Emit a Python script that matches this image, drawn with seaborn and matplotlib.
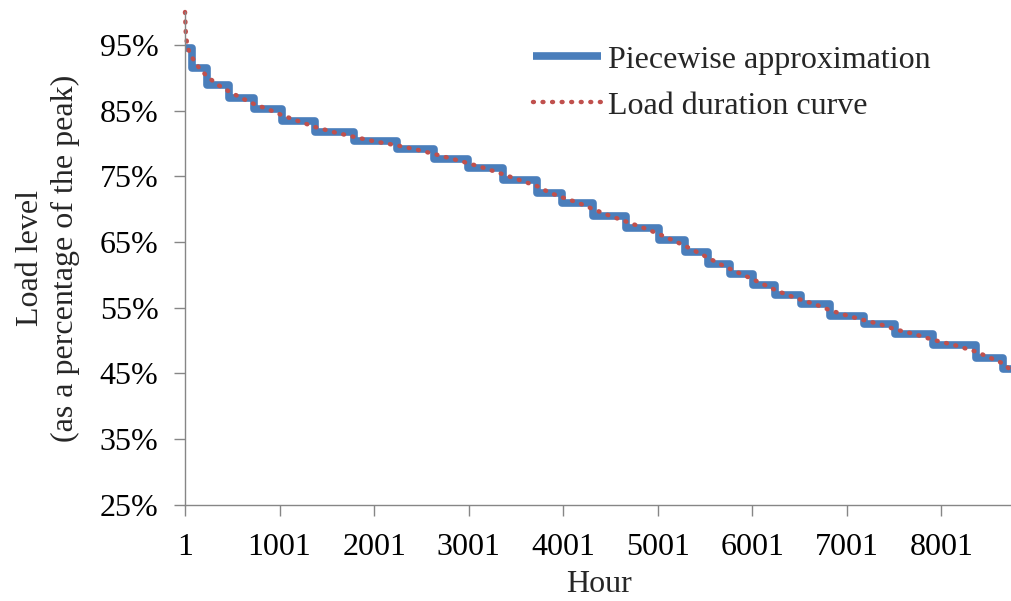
import matplotlib
matplotlib.use("Agg")
import matplotlib.pyplot as plt
from matplotlib.ticker import PercentFormatter
import pandas as pd
import seaborn as sns

# Piecewise (stepwise) approximation: start hour of each block and its load level (% of peak)
step_start_hours = [1, 75, 234, 467, 731, 1027, 1377, 1789, 2244, 2636, 2996, 3366,
                    3726, 3990, 4319, 4668, 5017, 5292, 5535, 5768, 6011, 6244,
                    6519, 6826, 7186, 7514, 7916, 8371, 8657]
step_levels = [94.5, 91.5, 88.9, 86.9, 85.2, 83.4, 81.7, 80.3, 79.1, 77.7, 76.2, 74.4,
               72.5, 71.0, 69.0, 67.2, 65.3, 63.5, 61.7, 60.1, 58.5, 56.9,
               55.5, 53.8, 52.5, 51.0, 49.3, 47.4, 45.6]
last_hour = 8760

# Load duration curve (sorted hourly load, % of peak)
ldc_hours = [1, 10, 30, 75, 150, 234, 350, 467, 600, 731, 880, 1027, 1200, 1377, 1580,
             1789, 2010, 2244, 2440, 2636, 2816, 2996, 3180, 3366, 3546, 3726, 3858,
             3990, 4155, 4319, 4494, 4668, 4843, 5017, 5155, 5292, 5413, 5535, 5651,
             5768, 5890, 6011, 6128, 6244, 6381, 6519, 6672, 6826, 7006, 7186, 7350,
             7514, 7715, 7916, 8143, 8371, 8514, 8657, 8760]
ldc_levels = [100.0, 96.5, 94.5, 93.1, 91.5, 90.2, 88.9, 87.9, 86.9, 86.0, 85.2, 84.3,
              83.4, 82.5, 81.7, 81.0, 80.3, 79.7, 79.1, 78.4, 77.7, 77.0, 76.2, 75.3,
              74.4, 73.5, 72.5, 71.8, 71.0, 70.0, 69.0, 68.1, 67.2, 66.2, 65.3, 64.4,
              63.5, 62.6, 61.7, 60.9, 60.1, 59.3, 58.5, 57.7, 56.9, 56.2, 55.5, 54.6,
              53.8, 53.1, 52.5, 51.7, 51.0, 50.1, 49.3, 48.3, 47.4, 46.5, 45.2]

x_ticks = [1, 1001, 2001, 3001, 4001, 5001, 6001, 7001, 8001]
y_ticks = [25, 35, 45, 55, 65, 75, 85, 95]

sns.set_style("ticks")
plt.rcParams["font.family"] = ["Liberation Serif", "DejaVu Serif"]
plt.rcParams["font.size"] = 23

blue = "#4a7ebb"
red = "#c0504d"
axis_grey = "#868686"
dot_pattern = (0.2, 1.95)

step_df = pd.DataFrame({
    "hour": step_start_hours + [last_hour],
    "level": step_levels + [step_levels[-1]],
})
ldc_df = pd.DataFrame({"hour": ldc_hours, "level": ldc_levels})

fig = plt.figure(figsize=(10.11, 6.01), dpi=100)
ax = fig.add_axes([0.183, 0.160, 0.819, 0.820])

sns.lineplot(data=step_df, x="hour", y="level", ax=ax, estimator=None, sort=False,
             drawstyle="steps-post", color=blue, label="Piecewise approximation")
sns.lineplot(data=ldc_df, x="hour", y="level", ax=ax, estimator=None, sort=False,
             color=red, label="Load duration curve")

step_line, ldc_line = ax.lines[0], ax.lines[1]
step_line.set_linewidth(5.5)
step_line.set_solid_joinstyle("round")
step_line.set_solid_capstyle("butt")
ldc_line.set_linewidth(3.2)
ldc_line.set_linestyle((0, dot_pattern))
ldc_line.set_dash_capstyle("round")
ldc_line.set_clip_on(False)

ax.set_xlim(1, 8760)
ax.set_ylim(25, 100)
ax.set_xticks(x_ticks)
ax.set_xticklabels([str(t) for t in x_ticks])
ax.set_yticks(y_ticks)
ax.yaxis.set_major_formatter(PercentFormatter(100, decimals=0))

for side in ("top", "right"):
    ax.spines[side].set_visible(False)
for side in ("left", "bottom"):
    ax.spines[side].set_color(axis_grey)
    ax.spines[side].set_linewidth(1.0)
ax.tick_params(axis="both", direction="out", length=8, width=1.0, color=axis_grey,
               labelsize=23, labelcolor="black")
ax.tick_params(axis="y", pad=11)
ax.tick_params(axis="x", pad=12)

ax.set_xlabel("Hour", fontsize=23, labelpad=6)
ax.set_ylabel("Load level\n(as a percentage of the peak)", fontsize=23,
              labelpad=14, linespacing=1.28)

leg = ax.legend(loc="center left", bbox_to_anchor=(0.527, 0.862),
                bbox_transform=fig.transFigure, frameon=False, fontsize=23,
                handlelength=2.15, handletextpad=0.2, labelspacing=0.52,
                borderpad=0, borderaxespad=0)
leg_step, leg_ldc = leg.get_lines()
leg_step.set_linewidth(5.5)
leg_ldc.set_linewidth(3.2)
leg_ldc.set_linestyle((0, dot_pattern))
leg_ldc.set_dash_capstyle("round")

fig.savefig("out.png", dpi=100)
